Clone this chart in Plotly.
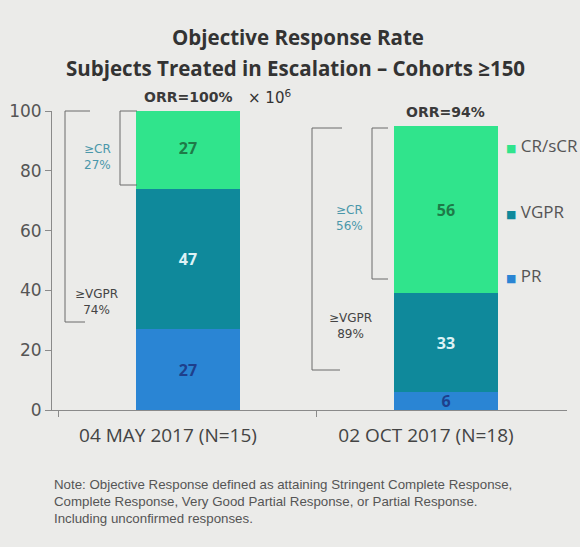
import plotly.graph_objects as go

# ---- data ----
categories = ["04 MAY 2017 (N=15)", "02 OCT 2017 (N=18)"]
pr_vals = [27, 6]
vgpr_vals = [47, 33]
cr_vals = [27, 56]
series_names = ["PR", "VGPR", "CR/sCR"]
orr_labels = ["ORR=100%", "ORR=94%"]
ge_cr_labels = ["≥CR<br>27%", "≥CR<br>56%"]
ge_vgpr_labels = ["≥VGPR<br>74%", "≥VGPR<br>89%"]
y_ticks = [0, 20, 40, 60, 80, 100]

colors = {"PR": "#2A85D4", "VGPR": "#0F899B", "CR/sCR": "#30E48C"}
text_colors = {"PR": "#1E3F8C", "VGPR": "#DDF2F5", "CR/sCR": "#1E7A48"}
font_fam = "Open Sans, Noto Sans, DejaVu Sans, sans-serif"
wide_fam = "DejaVu Sans, Verdana, sans-serif"

# plot area in pixels
L, R, T, B = 52, 567, 111, 410
W, H = 580, 547


def px_x(p):
    return (p - L) / (R - L)


def px_y(p):
    return (B - p) / (B - T)


fig = go.Figure()
for name, vals in zip(series_names, [pr_vals, vgpr_vals, cr_vals]):
    fig.add_trace(go.Bar(
        x=categories, y=vals, name=name, width=0.4,
        marker=dict(color=colors[name], line=dict(width=0)),
        text=[str(v) for v in vals], textposition="inside", textangle=0,
        insidetextanchor="middle",
        textfont=dict(color=text_colors[name], size=16, family=font_fam, weight="bold"),
        showlegend=False, hoverinfo="skip",
    ))

bg = "#EBEBE9"
fig.update_layout(
    barmode="stack", width=W, height=H,
    paper_bgcolor=bg, plot_bgcolor=bg,
    margin=dict(l=L, r=W - R, t=T, b=H - B, autoexpand=False),
    font=dict(family=font_fam, color="#444"),
    uniformtext=dict(mode="show", minsize=15),
    showlegend=False,
)
fig.update_yaxes(range=[0, 100], tickvals=y_ticks, showgrid=False, zeroline=False,
                 showline=True, linecolor="#8A8A8A", linewidth=1,
                 ticks="outside", ticklen=6, tickcolor="#8A8A8A", automargin=False,
                 tickfont=dict(size=17, color="#555", family=wide_fam))
fig.update_xaxes(range=[-0.527, 1.469], showgrid=False, showline=True,
                 linecolor="#8A8A8A", linewidth=1, ticks="outside", ticklen=6,
                 tickcolor="#8A8A8A", tickson="boundaries", automargin=False,
                 tickfont=dict(size=19, color="#444"), ticklabelstandoff=8,
                 ticklabelshift=-20)

# legend-like annotations on the right
legend_y = {"CR/sCR": 145, "VGPR": 211, "PR": 275}
for name in ["CR/sCR", "VGPR", "PR"]:
    fig.add_annotation(x=px_x(504), xref="paper", y=px_y(legend_y[name]), yref="paper",
                       xanchor="left", yanchor="middle", showarrow=False,
                       text=f"<span style='color:{colors[name]};font-size:11px'>■</span> {name}",
                       font=dict(size=17, color="#555"))

# brackets in pixel positions: (x_vertical, x_top_end, x_bottom_end, y_top, y_bottom)
brackets = [
    (65, 90, 85, 111, 322),
    (120, 137, 137, 111, 185),
    (312, 342, 340, 128, 370),
    (372, 388, 388, 128, 279),
]
for xv, xt, xb, yt, yb in brackets:
    fig.add_shape(type="path", xref="paper", yref="paper",
                  path=(f"M {px_x(xt)} {px_y(yt)} L {px_x(xv)} {px_y(yt)} "
                        f"L {px_x(xv)} {px_y(yb)} L {px_x(xb)} {px_y(yb)}"),
                  line=dict(color="#6A6A6A", width=1))

ann_small = dict(showarrow=False, xref="paper", yref="paper", align="center",
                 xanchor="center", yanchor="middle")
fig.add_annotation(x=px_x(97), y=px_y(157), text=ge_cr_labels[0],
                   font=dict(size=12, color="#4A97AA", family=wide_fam), **ann_small)
fig.add_annotation(x=px_x(96), y=px_y(302), text=ge_vgpr_labels[0],
                   font=dict(size=12, color="#444", family=wide_fam), **ann_small)
fig.add_annotation(x=px_x(349), y=px_y(218), text=ge_cr_labels[1],
                   font=dict(size=12, color="#4A97AA", family=wide_fam), **ann_small)
fig.add_annotation(x=px_x(350), y=px_y(326), text=ge_vgpr_labels[1],
                   font=dict(size=12, color="#444", family=wide_fam), **ann_small)

# ORR labels
orr_y = [97, 112]
for cat, lab, yy in zip(categories, orr_labels, orr_y):
    fig.add_annotation(x=cat, y=px_y(yy), xref="x", yref="paper", text=f"<b>{lab}</b>",
                       showarrow=False, font=dict(size=14, color="#3A3A3A", family=wide_fam),
                       xanchor="center", yanchor="middle")
fig.add_annotation(x=px_x(269), y=px_y(97), xref="paper", yref="paper",
                   text="× 10<sup>6</sup>", xanchor="center", yanchor="middle",
                   showarrow=False, font=dict(size=15, color="#333", family=wide_fam))

# title
fig.add_annotation(x=px_x(298), y=px_y(37), xref="paper", yref="paper",
                   text="<b>Objective Response Rate</b>", showarrow=False,
                   xanchor="center", yanchor="middle",
                   font=dict(size=20.5, color="#333"))
fig.add_annotation(x=px_x(295), y=px_y(68), xref="paper", yref="paper",
                   text="<b>Subjects Treated in Escalation – Cohorts ≥150</b>", showarrow=False,
                   xanchor="center", yanchor="middle",
                   font=dict(size=20.5, color="#333"))

# note
note_lines = [
    "Note: Objective Response defined as attaining Stringent Complete Response,",
    "Complete Response, Very Good Partial Response, or Partial Response.",
    "Including unconfirmed responses.",
]
for i, line in enumerate(note_lines):
    fig.add_annotation(x=px_x(52), y=px_y(484 + i * 17), xref="paper", yref="paper",
                       text=line, showarrow=False, xanchor="left", yanchor="middle",
                       font=dict(size=13.3, color="#555",
                                 family="Liberation Sans, Arial, sans-serif"))

fig.write_html("out.html", config={"displayModeBar": False},
               post_script="document.body.style.margin='0';document.body.style.background='#EBEBE9';")
